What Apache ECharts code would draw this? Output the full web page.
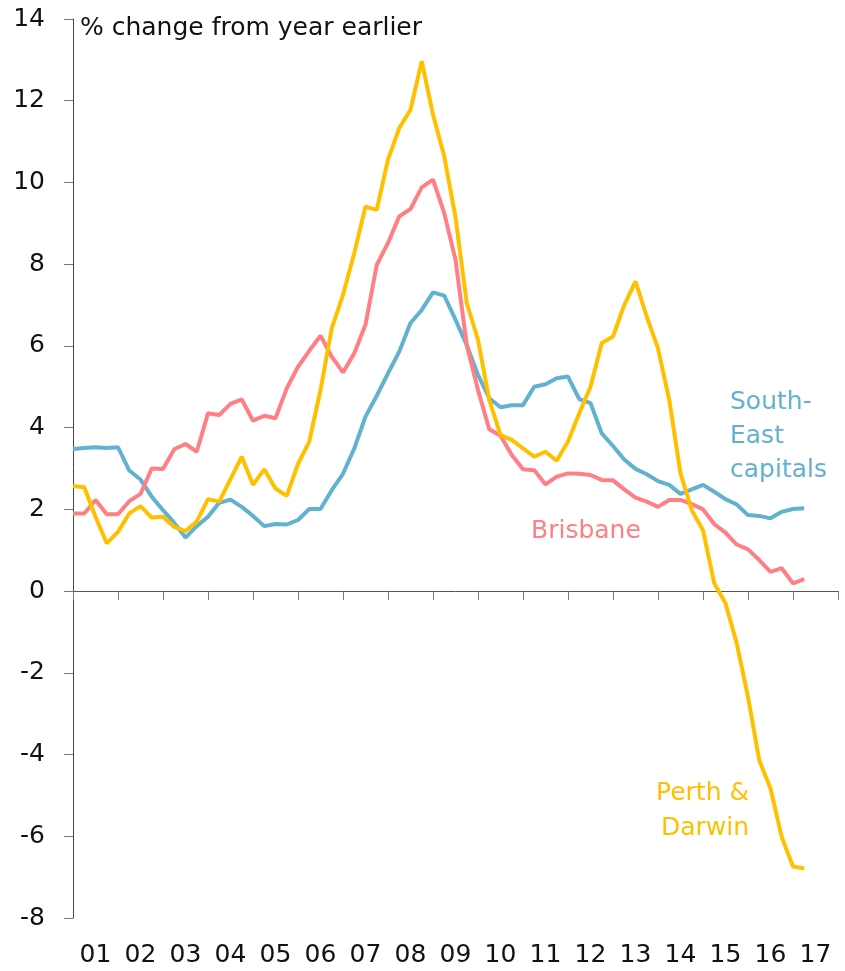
<!DOCTYPE html>
<html>
<head>
<meta charset="utf-8">
<script src="https://cdn.jsdelivr.net/npm/echarts@6/dist/echarts.min.js"></script>
<style>
  html, body { margin: 0; padding: 0; background: #fff; }
  #chart { width: 845px; height: 971px; }
</style>
</head>
<body>
<div id="chart"></div>
<script>
// quarterly data, first point = March quarter 2001
const START = 2001;
const years = ['01','02','03','04','05','06','07','08','09','10','11','12','13','14','15','16','17'];

const seCapitals = [
  3.48, 3.50, 3.52, 3.50, 3.52, 2.95, 2.73, 2.31, 1.98, 1.67,
  1.31, 1.59, 1.82, 2.16, 2.24, 2.06, 1.84, 1.59, 1.64, 1.63,
  1.74, 2.01, 2.01, 2.47, 2.87, 3.49, 4.27, 4.78, 5.33, 5.86,
  6.56, 6.88, 7.31, 7.23, 6.64, 6.02, 5.29, 4.72, 4.50, 4.55,
  4.55, 5.00, 5.06, 5.21, 5.25, 4.70, 4.60, 3.86, 3.55, 3.22,
  2.99, 2.86, 2.69, 2.60, 2.38, 2.49, 2.60, 2.43, 2.25, 2.12,
  1.86, 1.84, 1.78, 1.94, 2.01, 2.03
];

const brisbane = [
  1.90, 1.90, 2.23, 1.88, 1.88, 2.20, 2.38, 3.00, 2.99, 3.47,
  3.60, 3.41, 4.35, 4.31, 4.58, 4.69, 4.17, 4.29, 4.23, 4.96,
  5.49, 5.88, 6.25, 5.74, 5.35, 5.82, 6.52, 7.98, 8.52, 9.17,
  9.35, 9.88, 10.07, 9.25, 8.11, 6.02, 4.92, 3.96, 3.80, 3.33,
  2.98, 2.96, 2.61, 2.80, 2.88, 2.87, 2.84, 2.72, 2.71, 2.49,
  2.29, 2.19, 2.06, 2.23, 2.23, 2.13, 2.00, 1.64, 1.43, 1.14,
  1.02, 0.76, 0.47, 0.56, 0.19, 0.29
];

const perthDarwin = [
  2.57, 2.54, 1.82, 1.17, 1.45, 1.90, 2.08, 1.80, 1.82, 1.57,
  1.47, 1.70, 2.25, 2.19, 2.74, 3.29, 2.60, 2.98, 2.51, 2.33,
  3.11, 3.66, 4.92, 6.43, 7.25, 8.27, 9.41, 9.33, 10.56, 11.33,
  11.78, 12.97, 11.66, 10.64, 9.15, 7.05, 6.15, 4.68, 3.82, 3.70,
  3.49, 3.29, 3.41, 3.19, 3.66, 4.35, 5.00, 6.07, 6.23, 7.00,
  7.58, 6.72, 5.94, 4.68, 2.88, 1.98, 1.49, 0.19, -0.30, -1.28,
  -2.59, -4.14, -4.83, -6.02, -6.74, -6.79
];

const BLUE = '#62b1d0';
const PINK = '#ff7f84';
const GOLD = '#ffc000';
const FONT = 'DejaVu Sans';

const toPoints = (arr) => arr.map((v, i) => [START + i * 0.25, v]);

const myChart = echarts.init(document.getElementById('chart'));

const option = {
  animation: false,
  textStyle: { fontFamily: FONT },
  grid: { left: 73, right: 7, top: 19, bottom: 53, containLabel: false },
  xAxis: [
    {
      type: 'value',
      min: 2001,
      max: 2018,
      interval: 1,
      axisLine: { show: true, onZero: true, lineStyle: { color: '#555', width: 1 } },
      axisTick: { show: true, inside: false, length: 9, lineStyle: { color: '#777' } },
      axisLabel: { show: false },
      splitLine: { show: false }
    },
    {
      type: 'category',
      position: 'bottom',
      data: years,
      boundaryGap: true,
      axisLine: { show: false, onZero: false },
      axisTick: { show: false },
      axisLabel: { margin: 25, fontSize: 25, color: '#111', fontFamily: FONT },
      splitLine: { show: false }
    }
  ],
  yAxis: {
    type: 'value',
    min: -8,
    max: 14,
    interval: 2,
    axisLine: { show: true, lineStyle: { color: '#444', width: 1 } },
    axisTick: { show: true, inside: false, length: 9, lineStyle: { color: '#777' } },
    axisLabel: { margin: 28, fontSize: 25, color: '#111', fontFamily: FONT },
    splitLine: { show: false }
  },
  series: [
    {
      name: 'South-East capitals',
      type: 'line',
      xAxisIndex: 0,
      data: toPoints(seCapitals),
      showSymbol: false,
      lineStyle: { color: BLUE, width: 4 },
      itemStyle: { color: BLUE }
    },
    {
      name: 'Brisbane',
      type: 'line',
      xAxisIndex: 0,
      data: toPoints(brisbane),
      showSymbol: false,
      lineStyle: { color: PINK, width: 4 },
      itemStyle: { color: PINK }
    },
    {
      name: 'Perth & Darwin',
      type: 'line',
      xAxisIndex: 0,
      data: toPoints(perthDarwin),
      showSymbol: false,
      lineStyle: { color: GOLD, width: 4 },
      itemStyle: { color: GOLD }
    }
  ],
  graphic: [
    {
      type: 'text', left: 80, top: 16,
      style: { text: '% change from year earlier', fontSize: 25, fontFamily: FONT, fill: '#111' }
    },
    {
      type: 'text', left: 730, top: 385,
      style: { text: 'South-\nEast\ncapitals', fontSize: 25, lineHeight: 34, fontFamily: FONT, fill: BLUE }
    },
    {
      type: 'text', left: 531, top: 519,
      style: { text: 'Brisbane', fontSize: 25, fontFamily: FONT, fill: PINK }
    },
    {
      type: 'text', left: 656, top: 781,
      style: { text: 'Perth &', fontSize: 25, fontFamily: FONT, fill: GOLD }
    },
    {
      type: 'text', left: 661, top: 816,
      style: { text: 'Darwin', fontSize: 25, fontFamily: FONT, fill: GOLD }
    }
  ]
};

myChart.setOption(option);
</script>
</body>
</html>
